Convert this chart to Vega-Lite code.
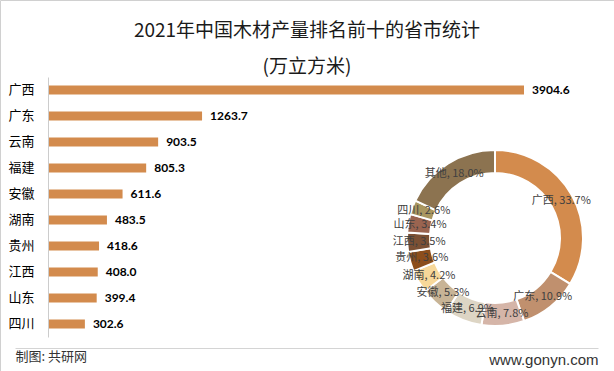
{
  "$schema": "https://vega.github.io/schema/vega-lite/v6.json",
  "width": 614,
  "height": 371,
  "autosize": "none",
  "padding": 0,
  "background": "white",
  "config": {
    "view": {"stroke": "#d0d0d0", "strokeWidth": 1},
    "font": "Noto Sans CJK SC"
  },
  "title": {
    "text": ["2021年中国木材产量排名前十的省市统计", "(万立方米)"],
    "font": "Noto Sans CJK SC",
    "fontSize": 19,
    "fontWeight": "normal",
    "color": "#1a1a1a",
    "anchor": "middle",
    "frame": "group",
    "orient": "top",
    "baseline": "top",
    "offset": 0,
    "dy": 77,
    "lineHeight": 36
  },
  "datasets": {
    "bars": [
      {"province": "广西", "value": 3904.6},
      {"province": "广东", "value": 1263.7},
      {"province": "云南", "value": 903.5},
      {"province": "福建", "value": 805.3},
      {"province": "安徽", "value": 611.6},
      {"province": "湖南", "value": 483.5},
      {"province": "贵州", "value": 418.6},
      {"province": "江西", "value": 408.0},
      {"province": "山东", "value": 399.4},
      {"province": "四川", "value": 302.6}
    ],
    "share": [
      {"rank": 1, "name": "广西", "pct": 33.7, "label": "广西, 33.7%"},
      {"rank": 2, "name": "广东", "pct": 10.9, "label": "广东, 10.9%"},
      {"rank": 3, "name": "云南", "pct": 7.8, "label": "云南, 7.8%"},
      {"rank": 4, "name": "福建", "pct": 6.9, "label": "福建, 6.9%"},
      {"rank": 5, "name": "安徽", "pct": 5.3, "label": "安徽, 5.3%"},
      {"rank": 6, "name": "湖南", "pct": 4.2, "label": "湖南, 4.2%"},
      {"rank": 7, "name": "贵州", "pct": 3.6, "label": "贵州, 3.6%"},
      {"rank": 8, "name": "江西", "pct": 3.5, "label": "江西, 3.5%"},
      {"rank": 9, "name": "山东", "pct": 3.4, "label": "山东, 3.4%"},
      {"rank": 10, "name": "四川", "pct": 2.6, "label": "四川, 2.6%"},
      {"rank": 11, "name": "其他", "pct": 18.0, "label": "其他, 18.0%"}
    ]
  },
  "layer": [
    {
      "data": {"name": "bars"},
      "mark": {"type": "bar", "color": "#D38B4D"},
      "encoding": {
        "y": {
          "field": "province",
          "type": "nominal",
          "sort": null,
          "scale": {"range": [77, 337], "paddingInner": 0.65, "paddingOuter": 0.325},
          "axis": {
            "orient": "left",
            "offset": -48,
            "domain": true,
            "ticks": false,
            "grid": false,
            "domainColor": "#cccccc",
            "domainWidth": 1,
            "zindex": 1,
            "labelFont": "Noto Sans CJK SC",
            "labelFontSize": 13,
            "labelColor": "#000000",
            "labelPadding": 14,
            "title": "www.gonyn.com",
            "titleAngle": 0,
            "titleX": 550,
            "titleY": 359,
            "titleAlign": "right",
            "titleBaseline": "middle",
            "titleFont": "Liberation Sans",
            "titleFontSize": 15,
            "titleFontWeight": "normal",
            "titleColor": "#333333"
          }
        },
        "x": {
          "field": "value",
          "type": "quantitative",
          "scale": {"domain": [-270.7, 4511.6], "range": [15, 598], "nice": false},
          "axis": {
            "orient": "bottom",
            "offset": -23,
            "domain": true,
            "ticks": false,
            "labels": false,
            "grid": false,
            "domainColor": "#d4d4d4",
            "domainWidth": 1,
            "zindex": 1,
            "title": "制图: 共研网",
            "titleAnchor": "start",
            "titleAlign": "left",
            "titlePadding": 2,
            "titleFont": "Noto Sans CJK SC",
            "titleFontSize": 13,
            "titleFontWeight": "normal",
            "titleColor": "#333333"
          }
        }
      }
    },
    {
      "data": {"name": "bars"},
      "mark": {"type": "text", "align": "left", "dx": 8, "font": "Lato", "fontWeight": "bold", "fontSize": 12, "color": "#000000"},
      "encoding": {
        "y": {"field": "province", "type": "nominal", "sort": null},
        "x": {"field": "value", "type": "quantitative"},
        "text": {"field": "value", "type": "quantitative", "format": ".1f"}
      }
    },
    {
      "data": {"name": "share"},
      "mark": {"type": "arc", "x": 495, "y": 238, "innerRadius": 65, "outerRadius": 88, "stroke": "white", "strokeWidth": 2},
      "encoding": {
        "theta": {"field": "pct", "type": "quantitative", "stack": true},
        "order": {"field": "rank", "type": "quantitative"},
        "color": {
          "field": "name",
          "type": "nominal",
          "legend": null,
          "scale": {
            "domain": ["广西", "广东", "云南", "福建", "安徽", "湖南", "贵州", "江西", "山东", "四川", "其他"],
            "range": ["#D38B4D", "#C0906E", "#D5B5A8", "#DDD5C4", "#C8B496", "#F7D89A", "#8C4E1C", "#7B5034", "#9A6450", "#A99660", "#8C7350"]
          }
        }
      }
    },
    {
      "data": {"name": "share"},
      "mark": {"type": "text", "x": 495, "y": 238, "radius": 76, "font": "Noto Sans CJK SC", "fontSize": 11, "color": "#404040"},
      "encoding": {
        "theta": {"field": "pct", "type": "quantitative", "stack": true},
        "order": {"field": "rank", "type": "quantitative"},
        "text": {"field": "label", "type": "nominal"}
      }
    }
  ]
}
